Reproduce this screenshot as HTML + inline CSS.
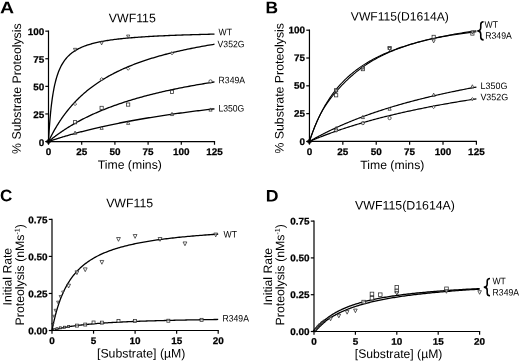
<!DOCTYPE html>
<html><head><meta charset="utf-8"><title>Figure</title>
<style>html,body{margin:0;padding:0;background:#fff;}svg{display:block;}svg text{font-family:"Liberation Sans",sans-serif;}</style></head>
<body>
<svg width="520" height="362" viewBox="0 0 520 362" font-family="Liberation Sans, sans-serif" fill="#000">
<rect width="520" height="362" fill="#fff"/>
<defs><filter id="soft" x="0" y="0" width="100%" height="100%" filterUnits="userSpaceOnUse" color-interpolation-filters="sRGB"><feGaussianBlur stdDeviation="0.3"/></filter></defs>
<g filter="url(#soft)">
<polyline points="48.50,141.55 48.52,141.22 48.56,140.40 48.63,139.19 48.72,137.65 48.82,135.82 48.95,133.75 49.09,131.49 49.26,129.06 49.43,126.51 49.63,123.87 49.84,121.16 50.07,118.43 50.31,115.68 50.57,112.93 50.84,110.21 51.13,107.53 51.43,104.90 51.75,102.33 52.08,99.83 52.43,97.39 52.79,95.03 53.17,92.75 53.56,90.55 53.96,88.43 54.37,86.38 54.80,84.42 55.25,82.53 55.70,80.72 56.17,78.99 56.66,77.32 57.15,75.73 57.66,74.20 58.18,72.74 58.72,71.33 59.27,69.99 59.82,68.71 60.40,67.47 60.98,66.30 61.58,65.17 62.19,64.08 62.81,63.05 63.45,62.05 64.09,61.10 64.75,60.19 65.42,59.31 66.11,58.47 66.80,57.66 67.51,56.89 68.23,56.14 68.96,55.43 69.70,54.74 70.45,54.08 71.22,53.44 72.00,52.83 72.79,52.24 73.59,51.68 74.40,51.13 75.22,50.61 76.06,50.10 76.90,49.61 77.76,49.14 78.63,48.69 79.51,48.25 80.40,47.82 81.30,47.42 82.22,47.02 83.14,46.64 84.08,46.27 85.03,45.91 85.99,45.57 86.96,45.23 87.94,44.91 88.93,44.60 89.93,44.30 90.94,44.00 91.97,43.72 93.00,43.44 94.05,43.17 95.10,42.91 96.17,42.66 97.25,42.42 98.34,42.18 99.44,41.95 100.55,41.73 101.67,41.51 102.80,41.30 103.94,41.09 105.09,40.90 106.26,40.70 107.43,40.51 108.61,40.33 109.81,40.15 111.01,39.98 112.23,39.81 113.45,39.64 114.69,39.48 115.93,39.33 117.19,39.17 118.46,39.02 119.73,38.88 121.02,38.74 122.32,38.60 123.63,38.47 124.95,38.34 126.27,38.21 127.61,38.08 128.96,37.96 130.32,37.84 131.69,37.73 133.07,37.61 134.46,37.50 135.85,37.39 137.26,37.29 138.68,37.18 140.11,37.08 141.55,36.98 143.00,36.89 144.46,36.79 145.93,36.70 147.41,36.61 148.89,36.52 150.39,36.43 151.90,36.35 153.42,36.26 154.95,36.18 156.48,36.10 158.03,36.02 159.59,35.95 161.16,35.87 162.73,35.80 164.32,35.73 165.92,35.66 167.52,35.59 169.14,35.52 170.76,35.45 172.40,35.39 174.04,35.32 175.70,35.26 177.36,35.20 179.03,35.14 180.72,35.08 182.41,35.02 184.11,34.96 185.82,34.91 187.54,34.85 189.28,34.80 191.02,34.75 192.77,34.69 194.53,34.64 196.29,34.59 198.07,34.54 199.86,34.49 201.66,34.45 203.46,34.40 205.28,34.35 207.10,34.31 208.94,34.26 210.78,34.22 212.64,34.18 214.50,34.13" fill="none" stroke="#000" stroke-width="1.3" stroke-linejoin="round"/>
<polyline points="48.50,141.55 48.52,141.51 48.56,141.42 48.63,141.28 48.72,141.09 48.82,140.87 48.95,140.61 49.09,140.31 49.26,139.97 49.43,139.61 49.63,139.21 49.84,138.78 50.07,138.32 50.31,137.83 50.57,137.32 50.84,136.78 51.13,136.21 51.43,135.62 51.75,135.01 52.08,134.38 52.43,133.73 52.79,133.05 53.17,132.36 53.56,131.65 53.96,130.93 54.37,130.18 54.80,129.43 55.25,128.66 55.70,127.87 56.17,127.08 56.66,126.27 57.15,125.45 57.66,124.62 58.18,123.79 58.72,122.94 59.27,122.09 59.82,121.23 60.40,120.37 60.98,119.49 61.58,118.62 62.19,117.74 62.81,116.85 63.45,115.97 64.09,115.08 64.75,114.19 65.42,113.29 66.11,112.40 66.80,111.51 67.51,110.61 68.23,109.72 68.96,108.83 69.70,107.94 70.45,107.05 71.22,106.16 72.00,105.27 72.79,104.39 73.59,103.51 74.40,102.64 75.22,101.77 76.06,100.90 76.90,100.03 77.76,99.18 78.63,98.32 79.51,97.47 80.40,96.63 81.30,95.79 82.22,94.95 83.14,94.12 84.08,93.30 85.03,92.49 85.99,91.67 86.96,90.87 87.94,90.07 88.93,89.28 89.93,88.49 90.94,87.72 91.97,86.94 93.00,86.18 94.05,85.42 95.10,84.67 96.17,83.92 97.25,83.18 98.34,82.45 99.44,81.73 100.55,81.01 101.67,80.30 102.80,79.59 103.94,78.90 105.09,78.21 106.26,77.53 107.43,76.85 108.61,76.18 109.81,75.52 111.01,74.86 112.23,74.22 113.45,73.57 114.69,72.94 115.93,72.31 117.19,71.69 118.46,71.08 119.73,70.47 121.02,69.87 122.32,69.27 123.63,68.69 124.95,68.10 126.27,67.53 127.61,66.96 128.96,66.40 130.32,65.84 131.69,65.29 133.07,64.75 134.46,64.21 135.85,63.68 137.26,63.16 138.68,62.64 140.11,62.13 141.55,61.62 143.00,61.12 144.46,60.62 145.93,60.13 147.41,59.65 148.89,59.17 150.39,58.70 151.90,58.23 153.42,57.77 154.95,57.31 156.48,56.86 158.03,56.41 159.59,55.97 161.16,55.53 162.73,55.10 164.32,54.68 165.92,54.25 167.52,53.84 169.14,53.43 170.76,53.02 172.40,52.62 174.04,52.22 175.70,51.83 177.36,51.44 179.03,51.05 180.72,50.67 182.41,50.30 184.11,49.93 185.82,49.56 187.54,49.20 189.28,48.84 191.02,48.49 192.77,48.14 194.53,47.79 196.29,47.45 198.07,47.11 199.86,46.78 201.66,46.44 203.46,46.12 205.28,45.79 207.10,45.47 208.94,45.16 210.78,44.85 212.64,44.54 214.50,44.23" fill="none" stroke="#000" stroke-width="1.3" stroke-linejoin="round"/>
<polyline points="48.50,141.55 48.52,141.54 48.56,141.50 48.63,141.44 48.72,141.37 48.82,141.28 48.95,141.18 49.09,141.06 49.26,140.93 49.43,140.78 49.63,140.62 49.84,140.45 50.07,140.26 50.31,140.07 50.57,139.86 50.84,139.64 51.13,139.41 51.43,139.17 51.75,138.91 52.08,138.65 52.43,138.38 52.79,138.10 53.17,137.81 53.56,137.51 53.96,137.20 54.37,136.88 54.80,136.56 55.25,136.23 55.70,135.88 56.17,135.54 56.66,135.18 57.15,134.82 57.66,134.45 58.18,134.07 58.72,133.69 59.27,133.30 59.82,132.91 60.40,132.51 60.98,132.11 61.58,131.70 62.19,131.28 62.81,130.86 63.45,130.44 64.09,130.01 64.75,129.58 65.42,129.15 66.11,128.71 66.80,128.26 67.51,127.82 68.23,127.37 68.96,126.92 69.70,126.46 70.45,126.00 71.22,125.55 72.00,125.08 72.79,124.62 73.59,124.15 74.40,123.69 75.22,123.22 76.06,122.75 76.90,122.28 77.76,121.80 78.63,121.33 79.51,120.86 80.40,120.38 81.30,119.91 82.22,119.43 83.14,118.95 84.08,118.48 85.03,118.00 85.99,117.53 86.96,117.05 87.94,116.57 88.93,116.10 89.93,115.62 90.94,115.15 91.97,114.67 93.00,114.20 94.05,113.73 95.10,113.26 96.17,112.79 97.25,112.32 98.34,111.85 99.44,111.38 100.55,110.92 101.67,110.45 102.80,109.99 103.94,109.53 105.09,109.07 106.26,108.61 107.43,108.16 108.61,107.70 109.81,107.25 111.01,106.80 112.23,106.35 113.45,105.90 114.69,105.46 115.93,105.02 117.19,104.58 118.46,104.14 119.73,103.70 121.02,103.27 122.32,102.84 123.63,102.41 124.95,101.98 126.27,101.55 127.61,101.13 128.96,100.71 130.32,100.29 131.69,99.87 133.07,99.46 134.46,99.05 135.85,98.64 137.26,98.23 138.68,97.83 140.11,97.43 141.55,97.03 143.00,96.63 144.46,96.24 145.93,95.85 147.41,95.46 148.89,95.07 150.39,94.69 151.90,94.31 153.42,93.93 154.95,93.55 156.48,93.18 158.03,92.81 159.59,92.44 161.16,92.08 162.73,91.71 164.32,91.35 165.92,90.99 167.52,90.64 169.14,90.28 170.76,89.93 172.40,89.58 174.04,89.24 175.70,88.90 177.36,88.55 179.03,88.22 180.72,87.88 182.41,87.55 184.11,87.22 185.82,86.89 187.54,86.56 189.28,86.24 191.02,85.92 192.77,85.60 194.53,85.28 196.29,84.97 198.07,84.66 199.86,84.35 201.66,84.04 203.46,83.74 205.28,83.43 207.10,83.14 208.94,82.84 210.78,82.54 212.64,82.25 214.50,81.96" fill="none" stroke="#000" stroke-width="1.3" stroke-linejoin="round"/>
<polyline points="48.50,141.55 48.52,141.54 48.56,141.53 48.63,141.51 48.72,141.48 48.82,141.44 48.95,141.40 49.09,141.35 49.26,141.29 49.43,141.23 49.63,141.17 49.84,141.09 50.07,141.02 50.31,140.94 50.57,140.85 50.84,140.76 51.13,140.66 51.43,140.56 51.75,140.45 52.08,140.34 52.43,140.23 52.79,140.11 53.17,139.98 53.56,139.86 53.96,139.73 54.37,139.59 54.80,139.45 55.25,139.31 55.70,139.16 56.17,139.01 56.66,138.86 57.15,138.70 57.66,138.54 58.18,138.37 58.72,138.20 59.27,138.03 59.82,137.86 60.40,137.68 60.98,137.50 61.58,137.32 62.19,137.13 62.81,136.94 63.45,136.75 64.09,136.56 64.75,136.36 65.42,136.16 66.11,135.96 66.80,135.76 67.51,135.55 68.23,135.34 68.96,135.13 69.70,134.92 70.45,134.70 71.22,134.48 72.00,134.27 72.79,134.04 73.59,133.82 74.40,133.60 75.22,133.37 76.06,133.14 76.90,132.91 77.76,132.68 78.63,132.45 79.51,132.22 80.40,131.98 81.30,131.75 82.22,131.51 83.14,131.27 84.08,131.03 85.03,130.79 85.99,130.55 86.96,130.30 87.94,130.06 88.93,129.81 89.93,129.57 90.94,129.32 91.97,129.07 93.00,128.82 94.05,128.58 95.10,128.33 96.17,128.08 97.25,127.83 98.34,127.58 99.44,127.32 100.55,127.07 101.67,126.82 102.80,126.57 103.94,126.31 105.09,126.06 106.26,125.81 107.43,125.55 108.61,125.30 109.81,125.05 111.01,124.79 112.23,124.54 113.45,124.28 114.69,124.03 115.93,123.78 117.19,123.52 118.46,123.27 119.73,123.01 121.02,122.76 122.32,122.51 123.63,122.25 124.95,122.00 126.27,121.75 127.61,121.50 128.96,121.24 130.32,120.99 131.69,120.74 133.07,120.49 134.46,120.24 135.85,119.99 137.26,119.74 138.68,119.49 140.11,119.24 141.55,118.99 143.00,118.75 144.46,118.50 145.93,118.25 147.41,118.01 148.89,117.76 150.39,117.52 151.90,117.27 153.42,117.03 154.95,116.79 156.48,116.55 158.03,116.30 159.59,116.06 161.16,115.82 162.73,115.59 164.32,115.35 165.92,115.11 167.52,114.87 169.14,114.64 170.76,114.40 172.40,114.17 174.04,113.93 175.70,113.70 177.36,113.47 179.03,113.24 180.72,113.01 182.41,112.78 184.11,112.55 185.82,112.32 187.54,112.09 189.28,111.87 191.02,111.64 192.77,111.42 194.53,111.20 196.29,110.97 198.07,110.75 199.86,110.53 201.66,110.31 203.46,110.10 205.28,109.88 207.10,109.66 208.94,109.45 210.78,109.23 212.64,109.02 214.50,108.80" fill="none" stroke="#000" stroke-width="1.3" stroke-linejoin="round"/>
<path d="M73.46,48.32L76.66,48.32L75.06,51.52Z" fill="#fff" fill-opacity="0.55" stroke="#2a2a2a" stroke-width="0.75"/>
<path d="M100.02,41.69L103.22,41.69L101.62,44.89Z" fill="#fff" fill-opacity="0.55" stroke="#2a2a2a" stroke-width="0.75"/>
<path d="M126.58,35.07L129.78,35.07L128.18,38.27Z" fill="#fff" fill-opacity="0.55" stroke="#2a2a2a" stroke-width="0.75"/>
<path d="M73.46,104.01L75.06,102.41L76.66,104.01L75.06,105.61Z" fill="#fff" fill-opacity="0.55" stroke="#2a2a2a" stroke-width="0.75"/>
<path d="M100.02,79.17L101.62,77.57L103.22,79.17L101.62,80.77Z" fill="#fff" fill-opacity="0.55" stroke="#2a2a2a" stroke-width="0.75"/>
<path d="M126.58,68.69L128.18,67.09L129.78,68.69L128.18,70.29Z" fill="#fff" fill-opacity="0.55" stroke="#2a2a2a" stroke-width="0.75"/>
<path d="M170.40,53.23L172.00,51.63L173.60,53.23L172.00,54.83Z" fill="#fff" fill-opacity="0.55" stroke="#2a2a2a" stroke-width="0.75"/>
<rect x="73.46" y="120.63" width="3.20" height="3.20" fill="#fff" fill-opacity="0.55" stroke="#2a2a2a" stroke-width="0.75"/>
<rect x="100.02" y="106.28" width="3.20" height="3.20" fill="#fff" fill-opacity="0.55" stroke="#2a2a2a" stroke-width="0.75"/>
<rect x="126.58" y="102.97" width="3.20" height="3.20" fill="#fff" fill-opacity="0.55" stroke="#2a2a2a" stroke-width="0.75"/>
<rect x="170.40" y="90.27" width="3.20" height="3.20" fill="#fff" fill-opacity="0.55" stroke="#2a2a2a" stroke-width="0.75"/>
<circle cx="210.52" cy="81.38" r="1.60" fill="#fff" fill-opacity="0.55" stroke="#2a2a2a" stroke-width="0.75"/>
<path d="M73.46,134.32L76.66,134.32L75.06,131.12Z" fill="#fff" fill-opacity="0.55" stroke="#2a2a2a" stroke-width="0.75"/>
<path d="M100.02,129.35L103.22,129.35L101.62,126.15Z" fill="#fff" fill-opacity="0.55" stroke="#2a2a2a" stroke-width="0.75"/>
<path d="M126.58,124.38L129.78,124.38L128.18,121.18Z" fill="#fff" fill-opacity="0.55" stroke="#2a2a2a" stroke-width="0.75"/>
<path d="M170.40,115.55L173.60,115.55L172.00,112.35Z" fill="#fff" fill-opacity="0.55" stroke="#2a2a2a" stroke-width="0.75"/>
<path d="M208.92,111.13L212.12,111.13L210.52,107.93Z" fill="#fff" fill-opacity="0.55" stroke="#2a2a2a" stroke-width="0.75"/>
<path d="M46.00,141.55L48.50,139.05L51.00,141.55L48.50,144.05Z" fill="#111" stroke="#111" stroke-width="0.8" stroke-linejoin="round"/>
<path d="M48.50,30.55L48.50,141.55L215.10,141.55" fill="none" stroke="#000" stroke-width="1.2"/>
<path d="M48.50,141.55v3.2" stroke="#000" stroke-width="1.2"/>
<text transform="translate(48.50,155.05) rotate(0.04) scale(1.035,1)" font-size="9.6" text-anchor="middle" font-weight="bold" stroke="#000" stroke-width="0.25">0</text>
<path d="M81.70,141.55v3.2" stroke="#000" stroke-width="1.2"/>
<text transform="translate(81.70,155.05) rotate(0.04) scale(1.035,1)" font-size="9.6" text-anchor="middle" font-weight="bold" stroke="#000" stroke-width="0.25">25</text>
<path d="M114.90,141.55v3.2" stroke="#000" stroke-width="1.2"/>
<text transform="translate(114.90,155.05) rotate(0.04) scale(1.035,1)" font-size="9.6" text-anchor="middle" font-weight="bold" stroke="#000" stroke-width="0.25">50</text>
<path d="M148.10,141.55v3.2" stroke="#000" stroke-width="1.2"/>
<text transform="translate(148.10,155.05) rotate(0.04) scale(1.035,1)" font-size="9.6" text-anchor="middle" font-weight="bold" stroke="#000" stroke-width="0.25">75</text>
<path d="M181.30,141.55v3.2" stroke="#000" stroke-width="1.2"/>
<text transform="translate(181.30,155.05) rotate(0.04) scale(1.035,1)" font-size="9.6" text-anchor="middle" font-weight="bold" stroke="#000" stroke-width="0.25">100</text>
<path d="M214.50,141.55v3.2" stroke="#000" stroke-width="1.2"/>
<text transform="translate(214.50,155.05) rotate(0.04) scale(1.035,1)" font-size="9.6" text-anchor="middle" font-weight="bold" stroke="#000" stroke-width="0.25">125</text>
<path d="M48.50,141.55h-3.2" stroke="#000" stroke-width="1.2"/>
<text transform="translate(44.40,146.10) rotate(0.04) scale(1.035,1)" font-size="9.6" text-anchor="end" font-weight="bold" stroke="#000" stroke-width="0.25">0</text>
<path d="M48.50,113.95h-3.2" stroke="#000" stroke-width="1.2"/>
<text transform="translate(44.40,117.90) rotate(0.04) scale(1.035,1)" font-size="9.6" text-anchor="end" font-weight="bold" stroke="#000" stroke-width="0.25">25</text>
<path d="M48.50,86.35h-3.2" stroke="#000" stroke-width="1.2"/>
<text transform="translate(44.40,90.30) rotate(0.04) scale(1.035,1)" font-size="9.6" text-anchor="end" font-weight="bold" stroke="#000" stroke-width="0.25">50</text>
<path d="M48.50,58.75h-3.2" stroke="#000" stroke-width="1.2"/>
<text transform="translate(44.40,62.70) rotate(0.04) scale(1.035,1)" font-size="9.6" text-anchor="end" font-weight="bold" stroke="#000" stroke-width="0.25">75</text>
<path d="M48.50,31.15h-3.2" stroke="#000" stroke-width="1.2"/>
<text transform="translate(44.40,35.10) rotate(0.04) scale(1.035,1)" font-size="9.6" text-anchor="end" font-weight="bold" stroke="#000" stroke-width="0.25">100</text>
<text transform="translate(0.00,13.20) rotate(0.04) scale(1.17,1)" font-size="16.7" text-anchor="start" font-weight="bold">A</text>
<text transform="translate(132.30,22.20) rotate(0.04)" font-size="12.3" text-anchor="middle">VWF115</text>
<text transform="translate(129.80,168.80) rotate(0.04) scale(1.02,1)" font-size="12.0" text-anchor="middle">Time (mins)</text>
<text transform="translate(20.90,88.65) rotate(-89.96)" font-size="12.3" text-anchor="middle">% Substrate Proteolysis</text>
<text transform="translate(218.60,35.20) rotate(0.04) scale(0.93,1)" font-size="9.3" text-anchor="start">WT</text>
<text transform="translate(217.60,47.30) rotate(0.04) scale(0.93,1)" font-size="9.3" text-anchor="start">V352G</text>
<text transform="translate(218.60,83.20) rotate(0.04) scale(0.93,1)" font-size="9.3" text-anchor="start">R349A</text>
<text transform="translate(218.40,111.40) rotate(0.04) scale(0.93,1)" font-size="9.3" text-anchor="start">L350G</text>
<polyline points="309.45,141.45 309.47,141.39 309.51,141.26 309.58,141.05 309.67,140.78 309.78,140.45 309.90,140.07 310.05,139.63 310.21,139.14 310.39,138.61 310.59,138.03 310.80,137.41 311.03,136.74 311.27,136.04 311.53,135.30 311.81,134.53 312.10,133.73 312.40,132.89 312.72,132.02 313.06,131.13 313.40,130.21 313.77,129.27 314.14,128.30 314.53,127.32 314.94,126.32 315.36,125.29 315.79,124.26 316.24,123.20 316.70,122.14 317.17,121.06 317.65,119.97 318.15,118.88 318.66,117.77 319.19,116.66 319.73,115.54 320.28,114.42 320.84,113.30 321.42,112.17 322.00,111.04 322.60,109.91 323.22,108.78 323.84,107.65 324.48,106.52 325.13,105.40 325.80,104.27 326.47,103.16 327.16,102.04 327.86,100.93 328.57,99.83 329.29,98.73 330.02,97.64 330.77,96.56 331.53,95.48 332.30,94.41 333.08,93.35 333.87,92.30 334.68,91.26 335.50,90.22 336.32,89.20 337.16,88.18 338.02,87.17 338.88,86.18 339.75,85.19 340.64,84.21 341.53,83.25 342.44,82.29 343.36,81.34 344.29,80.41 345.23,79.48 346.19,78.57 347.15,77.67 348.13,76.77 349.11,75.89 350.11,75.02 351.12,74.16 352.14,73.31 353.17,72.47 354.21,71.64 355.26,70.82 356.32,70.01 357.39,69.21 358.48,68.42 359.57,67.64 360.68,66.88 361.79,66.12 362.92,65.37 364.06,64.64 365.21,63.91 366.37,63.19 367.54,62.48 368.72,61.78 369.91,61.10 371.11,60.42 372.32,59.75 373.54,59.09 374.77,58.43 376.02,57.79 377.27,57.16 378.53,56.53 379.81,55.92 381.09,55.31 382.39,54.71 383.69,54.12 385.01,53.53 386.33,52.96 387.67,52.39 389.01,51.83 390.37,51.28 391.74,50.74 393.11,50.20 394.50,49.67 395.90,49.15 397.30,48.64 398.72,48.13 400.15,47.63 401.59,47.14 403.03,46.65 404.49,46.18 405.96,45.70 407.43,45.24 408.92,44.78 410.42,44.32 411.93,43.88 413.44,43.44 414.97,43.00 416.51,42.57 418.05,42.15 419.61,41.73 421.17,41.32 422.75,40.92 424.34,40.52 425.93,40.12 427.54,39.73 429.15,39.35 430.78,38.97 432.41,38.59 434.06,38.22 435.71,37.86 437.37,37.50 439.05,37.15 440.73,36.80 442.42,36.45 444.13,36.11 445.84,35.78 447.56,35.44 449.29,35.12 451.03,34.79 452.78,34.48 454.54,34.16 456.31,33.85 458.09,33.54 459.88,33.24 461.68,32.94 463.48,32.65 465.30,32.36 467.13,32.07 468.96,31.79 470.81,31.51 472.66,31.23 474.53,30.96 476.40,30.69" fill="none" stroke="#000" stroke-width="1.1" stroke-linejoin="round"/>
<polyline points="309.45,141.45 309.47,141.39 309.51,141.26 309.58,141.05 309.67,140.78 309.78,140.45 309.90,140.07 310.05,139.63 310.21,139.14 310.39,138.61 310.59,138.03 310.80,137.41 311.03,136.74 311.27,136.04 311.53,135.30 311.81,134.53 312.10,133.73 312.40,132.89 312.72,132.02 313.06,131.13 313.40,130.21 313.77,129.27 314.14,128.31 314.53,127.32 314.94,126.32 315.36,125.30 315.79,124.26 316.24,123.22 316.70,122.16 317.17,121.09 317.65,120.02 318.15,118.94 318.66,117.85 319.19,116.77 319.73,115.69 320.28,114.60 320.84,113.53 321.42,112.45 322.00,111.39 322.60,110.32 323.22,109.27 323.84,108.23 324.48,107.19 325.13,106.16 325.80,105.14 326.47,104.13 327.16,103.12 327.86,102.12 328.57,101.13 329.29,100.14 330.02,99.16 330.77,98.18 331.53,97.21 332.30,96.24 333.08,95.27 333.87,94.31 334.68,93.34 335.50,92.38 336.32,91.42 337.16,90.46 338.02,89.50 338.88,88.55 339.75,87.59 340.64,86.64 341.53,85.69 342.44,84.74 343.36,83.79 344.29,82.85 345.23,81.91 346.19,80.97 347.15,80.04 348.13,79.11 349.11,78.19 350.11,77.28 351.12,76.37 352.14,75.47 353.17,74.58 354.21,73.69 355.26,72.81 356.32,71.94 357.39,71.08 358.48,70.23 359.57,69.39 360.68,68.56 361.79,67.74 362.92,66.93 364.06,66.13 365.21,65.34 366.37,64.56 367.54,63.79 368.72,63.03 369.91,62.29 371.11,61.55 372.32,60.83 373.54,60.11 374.77,59.41 376.02,58.72 377.27,58.04 378.53,57.36 379.81,56.70 381.09,56.05 382.39,55.41 383.69,54.78 385.01,54.16 386.33,53.55 387.67,52.95 389.01,52.36 390.37,51.78 391.74,51.20 393.11,50.64 394.50,50.09 395.90,49.54 397.30,49.00 398.72,48.47 400.15,47.95 401.59,47.44 403.03,46.93 404.49,46.44 405.96,45.95 407.43,45.47 408.92,44.99 410.42,44.53 411.93,44.07 413.44,43.61 414.97,43.17 416.51,42.73 418.05,42.29 419.61,41.87 421.17,41.45 422.75,41.03 424.34,40.62 425.93,40.22 427.54,39.83 429.15,39.43 430.78,39.07 432.41,38.73 434.06,38.39 435.71,38.06 437.37,37.73 439.05,37.41 440.73,37.09 442.42,36.78 444.13,36.47 445.84,36.17 447.56,35.87 449.29,35.58 451.03,35.29 452.78,35.00 454.54,34.72 456.31,34.45 458.09,34.18 459.88,33.91 461.68,33.65 463.48,33.39 465.30,33.14 467.13,32.89 468.96,32.65 470.81,32.40 472.66,32.17 474.53,31.93 476.40,31.70" fill="none" stroke="#000" stroke-width="1.1" stroke-linejoin="round"/>
<polyline points="309.45,141.45 309.47,141.44 309.51,141.41 309.58,141.37 309.67,141.32 309.78,141.26 309.90,141.19 310.05,141.10 310.21,141.01 310.39,140.91 310.59,140.79 310.80,140.67 311.03,140.54 311.27,140.40 311.53,140.25 311.81,140.10 312.10,139.93 312.40,139.76 312.72,139.58 313.06,139.39 313.40,139.20 313.77,138.99 314.14,138.78 314.53,138.57 314.94,138.34 315.36,138.11 315.79,137.88 316.24,137.63 316.70,137.38 317.17,137.13 317.65,136.86 318.15,136.60 318.66,136.32 319.19,136.04 319.73,135.76 320.28,135.47 320.84,135.17 321.42,134.87 322.00,134.57 322.60,134.26 323.22,133.94 323.84,133.62 324.48,133.30 325.13,132.97 325.80,132.64 326.47,132.30 327.16,131.96 327.86,131.61 328.57,131.26 329.29,130.91 330.02,130.56 330.77,130.20 331.53,129.83 332.30,129.47 333.08,129.10 333.87,128.73 334.68,128.35 335.50,127.97 336.32,127.59 337.16,127.21 338.02,126.82 338.88,126.44 339.75,126.04 340.64,125.65 341.53,125.26 342.44,124.86 343.36,124.46 344.29,124.06 345.23,123.66 346.19,123.25 347.15,122.85 348.13,122.44 349.11,122.03 350.11,121.62 351.12,121.21 352.14,120.80 353.17,120.38 354.21,119.97 355.26,119.55 356.32,119.14 357.39,118.72 358.48,118.30 359.57,117.88 360.68,117.46 361.79,117.04 362.92,116.62 364.06,116.20 365.21,115.78 366.37,115.36 367.54,114.94 368.72,114.52 369.91,114.10 371.11,113.67 372.32,113.25 373.54,112.83 374.77,112.41 376.02,111.99 377.27,111.57 378.53,111.15 379.81,110.73 381.09,110.31 382.39,109.89 383.69,109.47 385.01,109.05 386.33,108.63 387.67,108.21 389.01,107.80 390.37,107.38 391.74,106.96 393.11,106.55 394.50,106.14 395.90,105.72 397.30,105.31 398.72,104.90 400.15,104.49 401.59,104.08 403.03,103.67 404.49,103.26 405.96,102.86 407.43,102.45 408.92,102.05 410.42,101.65 411.93,101.25 413.44,100.85 414.97,100.45 416.51,100.05 418.05,99.65 419.61,99.26 421.17,98.86 422.75,98.47 424.34,98.08 425.93,97.69 427.54,97.30 429.15,96.91 430.78,96.53 432.41,96.14 434.06,95.76 435.71,95.38 437.37,95.00 439.05,94.62 440.73,94.25 442.42,93.87 444.13,93.50 445.84,93.12 447.56,92.75 449.29,92.38 451.03,92.02 452.78,91.65 454.54,91.29 456.31,90.92 458.09,90.56 459.88,90.20 461.68,89.85 463.48,89.49 465.30,89.14 467.13,88.78 468.96,88.43 470.81,88.08 472.66,87.74 474.53,87.39 476.40,87.04" fill="none" stroke="#000" stroke-width="1.2" stroke-linejoin="round"/>
<polyline points="309.45,141.45 309.47,141.44 309.51,141.42 309.58,141.39 309.67,141.36 309.78,141.31 309.90,141.26 310.05,141.20 310.21,141.13 310.39,141.05 310.59,140.97 310.80,140.88 311.03,140.78 311.27,140.68 311.53,140.57 311.81,140.45 312.10,140.33 312.40,140.20 312.72,140.07 313.06,139.93 313.40,139.79 313.77,139.64 314.14,139.48 314.53,139.32 314.94,139.15 315.36,138.98 315.79,138.81 316.24,138.62 316.70,138.44 317.17,138.25 317.65,138.05 318.15,137.85 318.66,137.65 319.19,137.44 319.73,137.23 320.28,137.01 320.84,136.79 321.42,136.57 322.00,136.34 322.60,136.11 323.22,135.87 323.84,135.63 324.48,135.39 325.13,135.14 325.80,134.89 326.47,134.64 327.16,134.38 327.86,134.12 328.57,133.86 329.29,133.59 330.02,133.33 330.77,133.05 331.53,132.78 332.30,132.50 333.08,132.22 333.87,131.94 334.68,131.66 335.50,131.37 336.32,131.08 337.16,130.79 338.02,130.50 338.88,130.20 339.75,129.90 340.64,129.61 341.53,129.30 342.44,129.00 343.36,128.70 344.29,128.39 345.23,128.08 346.19,127.77 347.15,127.46 348.13,127.15 349.11,126.83 350.11,126.52 351.12,126.20 352.14,125.88 353.17,125.56 354.21,125.24 355.26,124.92 356.32,124.60 357.39,124.28 358.48,123.95 359.57,123.63 360.68,123.30 361.79,122.97 362.92,122.65 364.06,122.32 365.21,121.99 366.37,121.66 367.54,121.33 368.72,121.00 369.91,120.67 371.11,120.34 372.32,120.01 373.54,119.68 374.77,119.35 376.02,119.02 377.27,118.69 378.53,118.36 379.81,118.03 381.09,117.69 382.39,117.36 383.69,117.03 385.01,116.70 386.33,116.37 387.67,116.04 389.01,115.71 390.37,115.38 391.74,115.05 393.11,114.72 394.50,114.39 395.90,114.06 397.30,113.73 398.72,113.40 400.15,113.07 401.59,112.74 403.03,112.42 404.49,112.09 405.96,111.76 407.43,111.44 408.92,111.11 410.42,110.79 411.93,110.47 413.44,110.14 414.97,109.82 416.51,109.50 418.05,109.18 419.61,108.86 421.17,108.54 422.75,108.22 424.34,107.91 425.93,107.59 427.54,107.27 429.15,106.96 430.78,106.64 432.41,106.33 434.06,106.02 435.71,105.71 437.37,105.40 439.05,105.09 440.73,104.78 442.42,104.47 444.13,104.17 445.84,103.86 447.56,103.56 449.29,103.25 451.03,102.95 452.78,102.65 454.54,102.35 456.31,102.05 458.09,101.75 459.88,101.46 461.68,101.16 463.48,100.87 465.30,100.57 467.13,100.28 468.96,99.99 470.81,99.70 472.66,99.41 474.53,99.12 476.40,98.83" fill="none" stroke="#000" stroke-width="1.2" stroke-linejoin="round"/>
<rect x="334.56" y="88.68" width="3.20" height="3.20" fill="#fff" fill-opacity="0.55" stroke="#2a2a2a" stroke-width="0.75"/>
<rect x="334.56" y="93.68" width="3.20" height="3.20" fill="#fff" fill-opacity="0.55" stroke="#2a2a2a" stroke-width="0.75"/>
<rect x="361.27" y="67.54" width="3.20" height="3.20" fill="#fff" fill-opacity="0.55" stroke="#2a2a2a" stroke-width="0.75"/>
<rect x="387.99" y="46.40" width="3.20" height="3.20" fill="#fff" fill-opacity="0.55" stroke="#2a2a2a" stroke-width="0.75"/>
<rect x="432.06" y="35.27" width="3.20" height="3.20" fill="#fff" fill-opacity="0.55" stroke="#2a2a2a" stroke-width="0.75"/>
<rect x="470.79" y="31.94" width="3.20" height="3.20" fill="#fff" fill-opacity="0.55" stroke="#2a2a2a" stroke-width="0.75"/>
<path d="M334.56,89.79L337.76,89.79L336.16,92.99Z" fill="#fff" fill-opacity="0.55" stroke="#2a2a2a" stroke-width="0.75"/>
<path d="M361.27,66.42L364.47,66.42L362.87,69.62Z" fill="#fff" fill-opacity="0.55" stroke="#2a2a2a" stroke-width="0.75"/>
<path d="M387.99,47.51L391.19,47.51L389.59,50.71Z" fill="#fff" fill-opacity="0.55" stroke="#2a2a2a" stroke-width="0.75"/>
<path d="M432.06,39.73L435.26,39.73L433.66,42.93Z" fill="#fff" fill-opacity="0.55" stroke="#2a2a2a" stroke-width="0.75"/>
<path d="M470.79,30.83L473.99,30.83L472.39,34.03Z" fill="#fff" fill-opacity="0.55" stroke="#2a2a2a" stroke-width="0.75"/>
<path d="M334.56,129.70L337.76,129.70L336.16,126.50Z" fill="#fff" fill-opacity="0.55" stroke="#2a2a2a" stroke-width="0.75"/>
<path d="M361.27,118.57L364.47,118.57L362.87,115.38Z" fill="#fff" fill-opacity="0.55" stroke="#2a2a2a" stroke-width="0.75"/>
<path d="M387.99,110.23L391.19,110.23L389.59,107.03Z" fill="#fff" fill-opacity="0.55" stroke="#2a2a2a" stroke-width="0.75"/>
<path d="M432.06,96.32L435.26,96.32L433.66,93.12Z" fill="#fff" fill-opacity="0.55" stroke="#2a2a2a" stroke-width="0.75"/>
<path d="M470.79,87.98L473.99,87.98L472.39,84.78Z" fill="#fff" fill-opacity="0.55" stroke="#2a2a2a" stroke-width="0.75"/>
<circle cx="336.16" cy="130.32" r="1.60" fill="#fff" fill-opacity="0.55" stroke="#2a2a2a" stroke-width="0.75"/>
<circle cx="362.87" cy="123.09" r="1.60" fill="#fff" fill-opacity="0.55" stroke="#2a2a2a" stroke-width="0.75"/>
<circle cx="389.59" cy="118.09" r="1.60" fill="#fff" fill-opacity="0.55" stroke="#2a2a2a" stroke-width="0.75"/>
<path d="M432.06,106.96L433.66,105.36L435.26,106.96L433.66,108.56Z" fill="#fff" fill-opacity="0.55" stroke="#2a2a2a" stroke-width="0.75"/>
<path d="M470.79,99.17L472.39,97.58L473.99,99.17L472.39,100.77Z" fill="#fff" fill-opacity="0.55" stroke="#2a2a2a" stroke-width="0.75"/>
<path d="M306.95,141.45L309.45,138.95L311.95,141.45L309.45,143.95Z" fill="#111" stroke="#111" stroke-width="0.8" stroke-linejoin="round"/>
<path d="M309.45,29.60L309.45,141.45L477.00,141.45" fill="none" stroke="#000" stroke-width="1.2"/>
<path d="M309.45,141.45v3.2" stroke="#000" stroke-width="1.2"/>
<text transform="translate(309.45,154.95) rotate(0.04) scale(1.035,1)" font-size="9.6" text-anchor="middle" font-weight="bold" stroke="#000" stroke-width="0.25">0</text>
<path d="M342.84,141.45v3.2" stroke="#000" stroke-width="1.2"/>
<text transform="translate(342.84,154.95) rotate(0.04) scale(1.035,1)" font-size="9.6" text-anchor="middle" font-weight="bold" stroke="#000" stroke-width="0.25">25</text>
<path d="M376.23,141.45v3.2" stroke="#000" stroke-width="1.2"/>
<text transform="translate(376.23,154.95) rotate(0.04) scale(1.035,1)" font-size="9.6" text-anchor="middle" font-weight="bold" stroke="#000" stroke-width="0.25">50</text>
<path d="M409.62,141.45v3.2" stroke="#000" stroke-width="1.2"/>
<text transform="translate(409.62,154.95) rotate(0.04) scale(1.035,1)" font-size="9.6" text-anchor="middle" font-weight="bold" stroke="#000" stroke-width="0.25">75</text>
<path d="M443.01,141.45v3.2" stroke="#000" stroke-width="1.2"/>
<text transform="translate(443.01,154.95) rotate(0.04) scale(1.035,1)" font-size="9.6" text-anchor="middle" font-weight="bold" stroke="#000" stroke-width="0.25">100</text>
<path d="M476.40,141.45v3.2" stroke="#000" stroke-width="1.2"/>
<text transform="translate(476.40,154.95) rotate(0.04) scale(1.035,1)" font-size="9.6" text-anchor="middle" font-weight="bold" stroke="#000" stroke-width="0.25">125</text>
<path d="M309.45,141.45h-3.2" stroke="#000" stroke-width="1.2"/>
<text transform="translate(305.05,144.90) rotate(0.04) scale(1.035,1)" font-size="9.6" text-anchor="end" font-weight="bold" stroke="#000" stroke-width="0.25">0</text>
<path d="M309.45,113.64h-3.2" stroke="#000" stroke-width="1.2"/>
<text transform="translate(305.05,116.64) rotate(0.04) scale(1.035,1)" font-size="9.6" text-anchor="end" font-weight="bold" stroke="#000" stroke-width="0.25">25</text>
<path d="M309.45,85.82h-3.2" stroke="#000" stroke-width="1.2"/>
<text transform="translate(305.05,88.82) rotate(0.04) scale(1.035,1)" font-size="9.6" text-anchor="end" font-weight="bold" stroke="#000" stroke-width="0.25">50</text>
<path d="M309.45,58.01h-3.2" stroke="#000" stroke-width="1.2"/>
<text transform="translate(305.05,61.01) rotate(0.04) scale(1.035,1)" font-size="9.6" text-anchor="end" font-weight="bold" stroke="#000" stroke-width="0.25">75</text>
<path d="M309.45,30.20h-3.2" stroke="#000" stroke-width="1.2"/>
<text transform="translate(305.05,33.20) rotate(0.04) scale(1.035,1)" font-size="9.6" text-anchor="end" font-weight="bold" stroke="#000" stroke-width="0.25">100</text>
<text transform="translate(265.60,13.20) rotate(0.04) scale(1.04,1)" font-size="16.7" text-anchor="start" font-weight="bold">B</text>
<text transform="translate(399.80,20.60) rotate(0.04)" font-size="12.1" text-anchor="middle">VWF115(D1614A)</text>
<text transform="translate(392.30,169.10) rotate(0.04) scale(1.02,1)" font-size="12.0" text-anchor="middle">Time (mins)</text>
<text transform="translate(283.50,88.30) rotate(-89.96)" font-size="12.3" text-anchor="middle">% Substrate Proteolysis</text>
<text transform="translate(484.60,27.70) rotate(0.04) scale(0.93,1)" font-size="9.3" text-anchor="start">WT</text>
<text transform="translate(485.20,38.70) rotate(0.04) scale(0.94,1)" font-size="9.3" text-anchor="start">R349A</text>
<text transform="translate(480.60,89.00) rotate(0.04) scale(0.96,1)" font-size="9.3" text-anchor="start">L350G</text>
<text transform="translate(480.40,100.30) rotate(0.04) scale(0.96,1)" font-size="9.3" text-anchor="start">V352G</text>
<path d="M483.60,21.80q-2.85,0 -2.85,2.85V27.40q0,3.45 -3.45,3.45q3.45,0 3.45,3.45V37.05q0,2.85 2.85,2.85" fill="none" stroke="#000" stroke-width="1.6"/>
<polyline points="52.00,330.50 52.02,330.41 52.06,330.18 52.13,329.83 52.22,329.38 52.32,328.83 52.45,328.20 52.59,327.48 52.76,326.69 52.94,325.83 53.13,324.90 53.34,323.92 53.57,322.88 53.81,321.80 54.07,320.67 54.35,319.50 54.63,318.30 54.94,317.07 55.26,315.81 55.59,314.53 55.94,313.23 56.30,311.91 56.67,310.59 57.06,309.26 57.47,307.92 57.88,306.57 58.31,305.23 58.76,303.89 59.21,302.56 59.68,301.23 60.17,299.90 60.66,298.59 61.17,297.29 61.69,296.00 62.23,294.72 62.78,293.46 63.34,292.21 63.91,290.98 64.50,289.77 65.10,288.58 65.71,287.40 66.33,286.24 66.96,285.10 67.61,283.98 68.27,282.87 68.94,281.79 69.63,280.73 70.32,279.68 71.03,278.66 71.75,277.65 72.48,276.67 73.22,275.70 73.98,274.76 74.75,273.83 75.52,272.92 76.31,272.03 77.12,271.15 77.93,270.30 78.75,269.46 79.59,268.64 80.44,267.84 81.30,267.06 82.17,266.29 83.05,265.54 83.94,264.80 84.84,264.08 85.76,263.37 86.69,262.68 87.62,262.01 88.57,261.35 89.53,260.70 90.50,260.07 91.48,259.45 92.48,258.84 93.48,258.25 94.49,257.67 95.52,257.10 96.56,256.55 97.60,256.00 98.66,255.47 99.73,254.95 100.81,254.44 101.90,253.94 103.00,253.45 104.11,252.97 105.23,252.51 106.36,252.05 107.51,251.60 108.66,251.16 109.83,250.73 111.00,250.30 112.19,249.89 113.38,249.49 114.59,249.09 115.80,248.70 117.03,248.32 118.27,247.95 119.52,247.58 120.77,247.22 122.04,246.87 123.32,246.53 124.61,246.19 125.91,245.86 127.22,245.53 128.54,245.22 129.87,244.90 131.21,244.60 132.56,244.30 133.92,244.00 135.29,243.71 136.67,243.43 138.06,243.15 139.46,242.88 140.87,242.61 142.29,242.35 143.72,242.09 145.16,241.84 146.61,241.59 148.07,241.35 149.54,241.11 151.02,240.87 152.51,240.64 154.01,240.41 155.52,240.19 157.04,239.97 158.57,239.76 160.11,239.54 161.66,239.34 163.22,239.13 164.79,238.93 166.37,238.74 167.96,238.54 169.56,238.35 171.16,238.16 172.78,237.98 174.41,237.80 176.05,237.62 177.69,237.45 179.35,237.27 181.02,237.11 182.69,236.94 184.38,236.78 186.07,236.61 187.78,236.46 189.49,236.30 191.21,236.15 192.95,236.00 194.69,235.85 196.44,235.70 198.20,235.56 199.97,235.42 201.75,235.28 203.54,235.14 205.34,235.00 207.15,234.87 208.97,234.74 210.80,234.61 212.63,234.48 214.48,234.36 216.33,234.24 218.20,234.11" fill="none" stroke="#000" stroke-width="1.3" stroke-linejoin="round"/>
<polyline points="52.00,330.50 52.02,330.49 52.06,330.48 52.13,330.46 52.22,330.43 52.32,330.40 52.45,330.36 52.59,330.32 52.76,330.27 52.94,330.22 53.13,330.16 53.34,330.10 53.57,330.03 53.81,329.96 54.07,329.89 54.35,329.81 54.63,329.73 54.94,329.65 55.26,329.56 55.59,329.48 55.94,329.38 56.30,329.29 56.67,329.19 57.06,329.10 57.47,329.00 57.88,328.90 58.31,328.79 58.76,328.69 59.21,328.58 59.68,328.47 60.17,328.37 60.66,328.26 61.17,328.15 61.69,328.04 62.23,327.93 62.78,327.81 63.34,327.70 63.91,327.59 64.50,327.48 65.10,327.37 65.71,327.25 66.33,327.14 66.96,327.03 67.61,326.92 68.27,326.81 68.94,326.69 69.63,326.58 70.32,326.47 71.03,326.36 71.75,326.25 72.48,326.15 73.22,326.04 73.98,325.93 74.75,325.82 75.52,325.72 76.31,325.61 77.12,325.51 77.93,325.41 78.75,325.30 79.59,325.20 80.44,325.10 81.30,325.00 82.17,324.90 83.05,324.81 83.94,324.71 84.84,324.62 85.76,324.52 86.69,324.43 87.62,324.34 88.57,324.24 89.53,324.15 90.50,324.07 91.48,323.98 92.48,323.89 93.48,323.80 94.49,323.72 95.52,323.64 96.56,323.55 97.60,323.47 98.66,323.39 99.73,323.31 100.81,323.23 101.90,323.16 103.00,323.08 104.11,323.00 105.23,322.93 106.36,322.85 107.51,322.78 108.66,322.71 109.83,322.64 111.00,322.57 112.19,322.50 113.38,322.43 114.59,322.37 115.80,322.30 117.03,322.24 118.27,322.17 119.52,322.11 120.77,322.05 122.04,321.98 123.32,321.92 124.61,321.86 125.91,321.80 127.22,321.75 128.54,321.69 129.87,321.63 131.21,321.58 132.56,321.52 133.92,321.47 135.29,321.41 136.67,321.36 138.06,321.31 139.46,321.26 140.87,321.21 142.29,321.16 143.72,321.11 145.16,321.06 146.61,321.01 148.07,320.96 149.54,320.92 151.02,320.87 152.51,320.83 154.01,320.78 155.52,320.74 157.04,320.69 158.57,320.65 160.11,320.61 161.66,320.57 163.22,320.53 164.79,320.49 166.37,320.45 167.96,320.41 169.56,320.37 171.16,320.33 172.78,320.29 174.41,320.25 176.05,320.22 177.69,320.18 179.35,320.14 181.02,320.11 182.69,320.07 184.38,320.04 186.07,320.01 187.78,319.97 189.49,319.94 191.21,319.91 192.95,319.87 194.69,319.84 196.44,319.81 198.20,319.78 199.97,319.75 201.75,319.72 203.54,319.69 205.34,319.66 207.15,319.63 208.97,319.60 210.80,319.57 212.63,319.54 214.48,319.52 216.33,319.49 218.20,319.46" fill="none" stroke="#000" stroke-width="1.3" stroke-linejoin="round"/>
<path d="M51.63,323.37L54.03,323.37L52.83,325.77Z" fill="#fff" fill-opacity="0.55" stroke="#2a2a2a" stroke-width="0.7"/>
<path d="M52.88,315.23L55.28,315.23L54.08,317.63Z" fill="#fff" fill-opacity="0.55" stroke="#2a2a2a" stroke-width="0.7"/>
<path d="M54.12,309.30L56.52,309.30L55.32,311.70Z" fill="#fff" fill-opacity="0.55" stroke="#2a2a2a" stroke-width="0.7"/>
<path d="M56.62,301.15L59.02,301.15L57.82,303.55Z" fill="#fff" fill-opacity="0.55" stroke="#2a2a2a" stroke-width="0.7"/>
<path d="M59.11,295.53L61.51,295.53L60.31,297.93Z" fill="#fff" fill-opacity="0.55" stroke="#2a2a2a" stroke-width="0.7"/>
<path d="M61.60,291.08L64.00,291.08L62.80,293.48Z" fill="#fff" fill-opacity="0.55" stroke="#2a2a2a" stroke-width="0.7"/>
<path d="M66.72,284.16L70.52,284.16L68.62,287.96Z" fill="#fff" fill-opacity="0.55" stroke="#2a2a2a" stroke-width="0.75"/>
<path d="M75.03,270.83L78.83,270.83L76.93,274.63Z" fill="#fff" fill-opacity="0.55" stroke="#2a2a2a" stroke-width="0.75"/>
<path d="M83.34,267.87L87.14,267.87L85.24,271.67Z" fill="#fff" fill-opacity="0.55" stroke="#2a2a2a" stroke-width="0.75"/>
<path d="M99.96,260.46L103.76,260.46L101.86,264.26Z" fill="#fff" fill-opacity="0.55" stroke="#2a2a2a" stroke-width="0.75"/>
<path d="M116.58,237.50L120.38,237.50L118.48,241.30Z" fill="#fff" fill-opacity="0.55" stroke="#2a2a2a" stroke-width="0.75"/>
<path d="M133.20,234.54L137.00,234.54L135.10,238.34Z" fill="#fff" fill-opacity="0.55" stroke="#2a2a2a" stroke-width="0.75"/>
<path d="M158.13,237.50L161.93,237.50L160.03,241.30Z" fill="#fff" fill-opacity="0.55" stroke="#2a2a2a" stroke-width="0.75"/>
<path d="M183.06,241.94L186.86,241.94L184.96,245.74Z" fill="#fff" fill-opacity="0.55" stroke="#2a2a2a" stroke-width="0.75"/>
<path d="M213.81,233.05L217.61,233.05L215.71,236.85Z" fill="#fff" fill-opacity="0.55" stroke="#2a2a2a" stroke-width="0.75"/>
<rect x="53.49" y="328.61" width="2.00" height="2.00" fill="#fff" fill-opacity="0.55" stroke="#2a2a2a" stroke-width="0.8"/>
<rect x="55.99" y="327.72" width="2.00" height="2.00" fill="#fff" fill-opacity="0.55" stroke="#2a2a2a" stroke-width="0.8"/>
<rect x="59.31" y="326.83" width="2.00" height="2.00" fill="#fff" fill-opacity="0.55" stroke="#2a2a2a" stroke-width="0.8"/>
<rect x="63.47" y="326.24" width="2.00" height="2.00" fill="#fff" fill-opacity="0.55" stroke="#2a2a2a" stroke-width="0.8"/>
<rect x="67.62" y="325.50" width="2.00" height="2.00" fill="#fff" fill-opacity="0.55" stroke="#2a2a2a" stroke-width="0.8"/>
<rect x="75.43" y="324.11" width="3.00" height="3.00" fill="#fff" fill-opacity="0.55" stroke="#2a2a2a" stroke-width="0.75"/>
<rect x="83.74" y="323.07" width="3.00" height="3.00" fill="#fff" fill-opacity="0.55" stroke="#2a2a2a" stroke-width="0.75"/>
<rect x="92.05" y="321.00" width="3.00" height="3.00" fill="#fff" fill-opacity="0.55" stroke="#2a2a2a" stroke-width="0.75"/>
<rect x="100.36" y="321.15" width="3.00" height="3.00" fill="#fff" fill-opacity="0.55" stroke="#2a2a2a" stroke-width="0.75"/>
<rect x="116.98" y="319.37" width="3.00" height="3.00" fill="#fff" fill-opacity="0.55" stroke="#2a2a2a" stroke-width="0.75"/>
<rect x="133.60" y="319.37" width="3.00" height="3.00" fill="#fff" fill-opacity="0.55" stroke="#2a2a2a" stroke-width="0.75"/>
<rect x="166.84" y="319.22" width="3.00" height="3.00" fill="#fff" fill-opacity="0.55" stroke="#2a2a2a" stroke-width="0.75"/>
<rect x="200.08" y="318.33" width="3.00" height="3.00" fill="#fff" fill-opacity="0.55" stroke="#2a2a2a" stroke-width="0.75"/>
<path d="M52.00,218.80L52.00,330.50L218.80,330.50" fill="none" stroke="#000" stroke-width="1.2"/>
<path d="M52.00,330.50v3.2" stroke="#000" stroke-width="1.2"/>
<text transform="translate(52.00,343.90) rotate(0.04) scale(1.035,1)" font-size="9.6" text-anchor="middle" font-weight="bold" stroke="#000" stroke-width="0.25">0</text>
<path d="M93.55,330.50v3.2" stroke="#000" stroke-width="1.2"/>
<text transform="translate(93.55,343.90) rotate(0.04) scale(1.035,1)" font-size="9.6" text-anchor="middle" font-weight="bold" stroke="#000" stroke-width="0.25">5</text>
<path d="M135.10,330.50v3.2" stroke="#000" stroke-width="1.2"/>
<text transform="translate(135.10,343.90) rotate(0.04) scale(1.035,1)" font-size="9.6" text-anchor="middle" font-weight="bold" stroke="#000" stroke-width="0.25">10</text>
<path d="M176.65,330.50v3.2" stroke="#000" stroke-width="1.2"/>
<text transform="translate(176.65,343.90) rotate(0.04) scale(1.035,1)" font-size="9.6" text-anchor="middle" font-weight="bold" stroke="#000" stroke-width="0.25">15</text>
<path d="M218.20,330.50v3.2" stroke="#000" stroke-width="1.2"/>
<text transform="translate(218.20,343.90) rotate(0.04) scale(1.035,1)" font-size="9.6" text-anchor="middle" font-weight="bold" stroke="#000" stroke-width="0.25">20</text>
<path d="M52.00,330.50h-3.2" stroke="#000" stroke-width="1.2"/>
<text transform="translate(47.50,334.30) rotate(0.04) scale(1.035,1)" font-size="9.6" text-anchor="end" font-weight="bold" stroke="#000" stroke-width="0.25">0.00</text>
<path d="M52.00,293.47h-3.2" stroke="#000" stroke-width="1.2"/>
<text transform="translate(47.50,297.27) rotate(0.04) scale(1.035,1)" font-size="9.6" text-anchor="end" font-weight="bold" stroke="#000" stroke-width="0.25">0.25</text>
<path d="M52.00,256.43h-3.2" stroke="#000" stroke-width="1.2"/>
<text transform="translate(47.50,260.23) rotate(0.04) scale(1.035,1)" font-size="9.6" text-anchor="end" font-weight="bold" stroke="#000" stroke-width="0.25">0.50</text>
<path d="M52.00,219.40h-3.2" stroke="#000" stroke-width="1.2"/>
<text transform="translate(47.50,223.20) rotate(0.04) scale(1.035,1)" font-size="9.6" text-anchor="end" font-weight="bold" stroke="#000" stroke-width="0.25">0.75</text>
<text transform="translate(-0.10,201.30) rotate(0.04) scale(1.02,1)" font-size="16.7" text-anchor="start" font-weight="bold">C</text>
<text transform="translate(129.60,207.20) rotate(0.04)" font-size="12.3" text-anchor="middle">VWF115</text>
<text transform="translate(141.20,357.60) rotate(0.04)" font-size="12.3" text-anchor="middle">[Substrate] (µM)</text>
<text transform="translate(11.60,276.65) rotate(-89.96)" font-size="12.2" text-anchor="middle">Initial Rate</text>
<text transform="translate(24.00,274.80) rotate(-89.96)" font-size="12.3" text-anchor="middle">Proteolysis (nMs<tspan font-size="7" dy="-4.5">-1</tspan><tspan dy="4.5">)</tspan></text>
<text transform="translate(223.50,237.50) rotate(0.04) scale(0.93,1)" font-size="9.3" text-anchor="start">WT</text>
<text transform="translate(222.50,321.50) rotate(0.04) scale(0.93,1)" font-size="9.3" text-anchor="start">R349A</text>
<polyline points="314.00,331.50 314.02,331.48 314.06,331.42 314.13,331.32 314.22,331.21 314.32,331.06 314.45,330.90 314.59,330.71 314.75,330.49 314.93,330.26 315.13,330.01 315.34,329.74 315.56,329.45 315.81,329.15 316.06,328.83 316.34,328.50 316.62,328.15 316.93,327.79 317.24,327.42 317.58,327.04 317.92,326.65 318.28,326.25 318.66,325.84 319.04,325.42 319.45,325.00 319.86,324.56 320.29,324.13 320.73,323.69 321.19,323.24 321.66,322.79 322.14,322.34 322.63,321.88 323.14,321.42 323.66,320.96 324.19,320.50 324.74,320.04 325.30,319.58 325.87,319.12 326.45,318.65 327.05,318.19 327.66,317.73 328.28,317.28 328.91,316.82 329.56,316.37 330.21,315.92 330.88,315.47 331.56,315.02 332.26,314.58 332.96,314.14 333.68,313.70 334.41,313.27 335.15,312.84 335.90,312.42 336.66,312.00 337.44,311.58 338.23,311.17 339.03,310.76 339.84,310.36 340.66,309.96 341.49,309.56 342.33,309.17 343.19,308.79 344.06,308.41 344.94,308.03 345.82,307.66 346.73,307.29 347.64,306.93 348.56,306.57 349.49,306.22 350.44,305.87 351.40,305.53 352.36,305.19 353.34,304.86 354.33,304.53 355.33,304.21 356.34,303.89 357.36,303.57 358.39,303.26 359.44,302.96 360.49,302.65 361.56,302.36 362.63,302.06 363.72,301.78 364.81,301.49 365.92,301.21 367.04,300.93 368.17,300.66 369.31,300.39 370.46,300.13 371.62,299.87 372.79,299.62 373.97,299.36 375.16,299.11 376.36,298.87 377.57,298.63 378.80,298.39 380.03,298.16 381.27,297.93 382.53,297.70 383.79,297.48 385.06,297.26 386.35,297.04 387.64,296.83 388.95,296.62 390.26,296.41 391.59,296.21 392.92,296.01 394.27,295.81 395.62,295.62 396.99,295.42 398.36,295.24 399.75,295.05 401.14,294.87 402.55,294.69 403.96,294.51 405.39,294.33 406.83,294.16 408.27,293.99 409.73,293.82 411.19,293.66 412.67,293.50 414.15,293.34 415.65,293.18 417.15,293.02 418.67,292.87 420.19,292.72 421.72,292.57 423.27,292.42 424.82,292.28 426.38,292.14 427.96,292.00 429.54,291.86 431.13,291.72 432.73,291.59 434.35,291.46 435.97,291.33 437.60,291.20 439.24,291.07 440.89,290.95 442.55,290.82 444.22,290.70 445.90,290.58 447.59,290.46 449.28,290.35 450.99,290.23 452.71,290.12 454.44,290.01 456.17,289.90 457.92,289.79 459.67,289.68 461.44,289.57 463.21,289.47 465.00,289.37 466.79,289.27 468.59,289.17 470.40,289.07 472.22,288.97 474.05,288.87 475.89,288.78 477.74,288.68 479.60,288.59" fill="none" stroke="#000" stroke-width="1.3" stroke-linejoin="round"/>
<polyline points="314.00,331.50 314.02,331.48 314.06,331.43 314.13,331.36 314.22,331.26 314.32,331.14 314.45,331.01 314.59,330.85 314.75,330.68 314.93,330.49 315.13,330.28 315.34,330.06 315.56,329.82 315.81,329.57 316.06,329.30 316.34,329.03 316.62,328.74 316.93,328.44 317.24,328.13 317.58,327.80 317.92,327.47 318.28,327.13 318.66,326.78 319.04,326.43 319.45,326.06 319.86,325.69 320.29,325.31 320.73,324.93 321.19,324.54 321.66,324.15 322.14,323.75 322.63,323.35 323.14,322.95 323.66,322.54 324.19,322.13 324.74,321.71 325.30,321.30 325.87,320.88 326.45,320.47 327.05,320.05 327.66,319.63 328.28,319.21 328.91,318.79 329.56,318.37 330.21,317.95 330.88,317.54 331.56,317.12 332.26,316.71 332.96,316.29 333.68,315.88 334.41,315.47 335.15,315.06 335.90,314.66 336.66,314.25 337.44,313.85 338.23,313.45 339.03,313.06 339.84,312.67 340.66,312.28 341.49,311.89 342.33,311.51 343.19,311.12 344.06,310.75 344.94,310.37 345.82,310.00 346.73,309.64 347.64,309.27 348.56,308.91 349.49,308.56 350.44,308.21 351.40,307.86 352.36,307.51 353.34,307.17 354.33,306.83 355.33,306.50 356.34,306.17 357.36,305.84 358.39,305.52 359.44,305.20 360.49,304.89 361.56,304.57 362.63,304.27 363.72,303.96 364.81,303.66 365.92,303.37 367.04,303.07 368.17,302.78 369.31,302.50 370.46,302.22 371.62,301.94 372.79,301.66 373.97,301.39 375.16,301.12 376.36,300.86 377.57,300.60 378.80,300.34 380.03,300.08 381.27,299.83 382.53,299.59 383.79,299.34 385.06,299.10 386.35,298.86 387.64,298.63 388.95,298.39 390.26,298.16 391.59,297.94 392.92,297.71 394.27,297.49 395.62,297.28 396.99,297.06 398.36,296.85 399.75,296.64 401.14,296.44 402.55,296.23 403.96,296.03 405.39,295.83 406.83,295.64 408.27,295.45 409.73,295.26 411.19,295.07 412.67,294.88 414.15,294.70 415.65,294.52 417.15,294.34 418.67,294.17 420.19,293.99 421.72,293.82 423.27,293.65 424.82,293.49 426.38,293.32 427.96,293.16 429.54,293.00 431.13,292.84 432.73,292.69 434.35,292.53 435.97,292.38 437.60,292.23 439.24,292.08 440.89,291.94 442.55,291.79 444.22,291.65 445.90,291.51 447.59,291.37 449.28,291.23 450.99,291.10 452.71,290.97 454.44,290.83 456.17,290.70 457.92,290.57 459.67,290.45 461.44,290.32 463.21,290.20 465.00,290.08 466.79,289.96 468.59,289.84 470.40,289.72 472.22,289.60 474.05,289.49 475.89,289.37 477.74,289.26 479.60,289.15" fill="none" stroke="#000" stroke-width="1.3" stroke-linejoin="round"/>
<polyline points="314.00,331.50 314.00,331.50 314.00,331.50 314.01,331.49 314.01,331.48 314.02,331.47 314.03,331.46 314.04,331.45 314.05,331.44 314.06,331.43 314.07,331.41 314.09,331.39 314.10,331.38 314.12,331.36 314.13,331.34 314.15,331.32 314.17,331.29 314.19,331.27 314.21,331.24 314.23,331.22 314.25,331.19 314.28,331.16 314.30,331.13 314.33,331.10 314.35,331.07 314.38,331.04 314.41,331.01 314.44,330.97 314.47,330.94 314.50,330.90 314.53,330.86 314.56,330.82 314.59,330.79 314.63,330.74 314.66,330.70 314.70,330.66 314.73,330.62 314.77,330.58 314.81,330.53 314.85,330.49 314.89,330.44 314.93,330.39 314.97,330.34 315.01,330.29 315.05,330.24 315.10,330.19 315.14,330.14 315.19,330.09 315.23,330.04 315.28,329.98 315.33,329.93 315.37,329.87 315.42,329.82 315.47,329.76 315.52,329.70 315.57,329.65 315.63,329.59 315.68,329.53 315.73,329.47 315.79,329.41 315.84,329.34 315.90,329.28 315.95,329.22 316.01,329.15 316.07,329.09 316.13,329.02 316.19,328.96 316.25,328.89 316.31,328.83 316.37,328.76 316.43,328.69 316.49,328.62 316.56,328.55 316.62,328.48 316.69,328.41 316.75,328.34 316.82,328.27 316.89,328.20 316.95,328.12 317.02,328.05 317.09,327.98 317.16,327.90 317.23,327.83 317.30,327.75 317.37,327.68 317.45,327.60 317.52,327.52 317.59,327.44 317.67,327.37 317.75,327.29 317.82,327.21 317.90,327.13 317.98,327.05 318.05,326.97 318.13,326.89 318.21,326.81 318.29,326.73 318.37,326.65 318.45,326.56 318.54,326.48 318.62,326.40 318.70,326.32 318.79,326.23 318.87,326.15 318.96,326.06 319.04,325.98 319.13,325.89 319.22,325.81 319.31,325.72 319.39,325.64 319.48,325.55 319.57,325.46 319.66,325.38 319.76,325.29 319.85,325.20 319.94,325.11 320.03,325.02 320.13,324.94 320.22,324.85 320.32,324.76 320.41,324.67 320.51,324.58 320.61,324.49 320.70,324.40 320.80,324.31 320.90,324.22 321.00,324.13 321.10,324.04 321.20,323.94 321.30,323.85 321.41,323.76 321.51,323.67 321.61,323.58 321.72,323.48 321.82,323.39 321.93,323.30 322.03,323.21 322.14,323.11 322.25,323.02 322.36,322.93 322.46,322.83 322.57,322.74 322.68,322.65 322.79,322.55 322.90,322.46 323.02,322.36 323.13,322.27 323.24,322.18 323.35,322.08 323.47,321.99 323.58,321.89 323.70,321.80 323.81,321.70 323.93,321.61 324.05,321.51 324.17,321.42 324.28,321.32 324.40,321.23 324.52,321.13 324.64,321.03 324.76,320.94" fill="none" stroke="#000" stroke-width="3.0" stroke-linejoin="round"/>
<rect x="314.66" y="328.73" width="2.00" height="2.00" fill="#fff" fill-opacity="0.55" stroke="#2a2a2a" stroke-width="0.8"/>
<rect x="316.73" y="326.08" width="2.00" height="2.00" fill="#fff" fill-opacity="0.55" stroke="#2a2a2a" stroke-width="0.8"/>
<rect x="318.80" y="323.88" width="2.00" height="2.00" fill="#fff" fill-opacity="0.55" stroke="#2a2a2a" stroke-width="0.8"/>
<rect x="321.28" y="321.67" width="2.00" height="2.00" fill="#fff" fill-opacity="0.55" stroke="#2a2a2a" stroke-width="0.8"/>
<rect x="361.88" y="300.26" width="3.60" height="3.60" fill="#fff" fill-opacity="0.55" stroke="#2a2a2a" stroke-width="0.75"/>
<rect x="370.16" y="292.16" width="3.60" height="3.60" fill="#fff" fill-opacity="0.55" stroke="#2a2a2a" stroke-width="0.75"/>
<rect x="370.16" y="296.58" width="3.60" height="3.60" fill="#fff" fill-opacity="0.55" stroke="#2a2a2a" stroke-width="0.75"/>
<rect x="378.44" y="292.90" width="3.60" height="3.60" fill="#fff" fill-opacity="0.55" stroke="#2a2a2a" stroke-width="0.75"/>
<rect x="395.00" y="285.54" width="3.60" height="3.60" fill="#fff" fill-opacity="0.55" stroke="#2a2a2a" stroke-width="0.75"/>
<rect x="395.00" y="289.22" width="3.60" height="3.60" fill="#fff" fill-opacity="0.55" stroke="#2a2a2a" stroke-width="0.75"/>
<rect x="444.68" y="287.01" width="3.60" height="3.60" fill="#fff" fill-opacity="0.55" stroke="#2a2a2a" stroke-width="0.75"/>
<path d="M315.48,327.56L317.48,327.56L316.48,329.56Z" fill="#fff" fill-opacity="0.55" stroke="#2a2a2a" stroke-width="0.8"/>
<path d="M317.97,324.61L319.97,324.61L318.97,326.61Z" fill="#fff" fill-opacity="0.55" stroke="#2a2a2a" stroke-width="0.8"/>
<path d="M320.45,322.40L322.45,322.40L321.45,324.40Z" fill="#fff" fill-opacity="0.55" stroke="#2a2a2a" stroke-width="0.8"/>
<path d="M322.94,320.20L324.94,320.20L323.94,322.20Z" fill="#fff" fill-opacity="0.55" stroke="#2a2a2a" stroke-width="0.8"/>
<path d="M328.76,317.19L332.36,317.19L330.56,320.79Z" fill="#fff" fill-opacity="0.55" stroke="#2a2a2a" stroke-width="0.75"/>
<path d="M337.04,314.24L340.64,314.24L338.84,317.84Z" fill="#fff" fill-opacity="0.55" stroke="#2a2a2a" stroke-width="0.75"/>
<path d="M345.32,310.56L348.92,310.56L347.12,314.16Z" fill="#fff" fill-opacity="0.55" stroke="#2a2a2a" stroke-width="0.75"/>
<path d="M353.60,309.09L357.20,309.09L355.40,312.69Z" fill="#fff" fill-opacity="0.55" stroke="#2a2a2a" stroke-width="0.75"/>
<path d="M395.00,291.43L398.60,291.43L396.80,295.03Z" fill="#fff" fill-opacity="0.55" stroke="#2a2a2a" stroke-width="0.75"/>
<path d="M444.68,289.66L448.28,289.66L446.48,293.26Z" fill="#fff" fill-opacity="0.55" stroke="#2a2a2a" stroke-width="0.75"/>
<path d="M477.80,290.69L481.40,290.69L479.60,294.29Z" fill="#fff" fill-opacity="0.55" stroke="#2a2a2a" stroke-width="0.75"/>
<path d="M314.00,220.50L314.00,331.50L480.20,331.50" fill="none" stroke="#000" stroke-width="1.2"/>
<path d="M314.00,331.50v3.2" stroke="#000" stroke-width="1.2"/>
<text transform="translate(314.00,344.70) rotate(0.04) scale(1.035,1)" font-size="9.6" text-anchor="middle" font-weight="bold" stroke="#000" stroke-width="0.25">0</text>
<path d="M355.40,331.50v3.2" stroke="#000" stroke-width="1.2"/>
<text transform="translate(355.40,344.70) rotate(0.04) scale(1.035,1)" font-size="9.6" text-anchor="middle" font-weight="bold" stroke="#000" stroke-width="0.25">5</text>
<path d="M396.80,331.50v3.2" stroke="#000" stroke-width="1.2"/>
<text transform="translate(396.80,344.70) rotate(0.04) scale(1.035,1)" font-size="9.6" text-anchor="middle" font-weight="bold" stroke="#000" stroke-width="0.25">10</text>
<path d="M438.20,331.50v3.2" stroke="#000" stroke-width="1.2"/>
<text transform="translate(438.20,344.70) rotate(0.04) scale(1.035,1)" font-size="9.6" text-anchor="middle" font-weight="bold" stroke="#000" stroke-width="0.25">15</text>
<path d="M479.60,331.50v3.2" stroke="#000" stroke-width="1.2"/>
<text transform="translate(479.60,344.70) rotate(0.04) scale(1.035,1)" font-size="9.6" text-anchor="middle" font-weight="bold" stroke="#000" stroke-width="0.25">20</text>
<path d="M314.00,331.50h-3.2" stroke="#000" stroke-width="1.2"/>
<text transform="translate(309.60,334.90) rotate(0.04) scale(1.035,1)" font-size="9.6" text-anchor="end" font-weight="bold" stroke="#000" stroke-width="0.25">0.00</text>
<path d="M314.00,294.70h-3.2" stroke="#000" stroke-width="1.2"/>
<text transform="translate(309.60,298.10) rotate(0.04) scale(1.035,1)" font-size="9.6" text-anchor="end" font-weight="bold" stroke="#000" stroke-width="0.25">0.25</text>
<path d="M314.00,257.90h-3.2" stroke="#000" stroke-width="1.2"/>
<text transform="translate(309.60,261.30) rotate(0.04) scale(1.035,1)" font-size="9.6" text-anchor="end" font-weight="bold" stroke="#000" stroke-width="0.25">0.50</text>
<path d="M314.00,221.10h-3.2" stroke="#000" stroke-width="1.2"/>
<text transform="translate(309.60,224.50) rotate(0.04) scale(1.035,1)" font-size="9.6" text-anchor="end" font-weight="bold" stroke="#000" stroke-width="0.25">0.75</text>
<text transform="translate(265.70,201.50) rotate(0.04) scale(1.06,1)" font-size="16.7" text-anchor="start" font-weight="bold">D</text>
<text transform="translate(405.00,209.50) rotate(0.04)" font-size="12.35" text-anchor="middle">VWF115(D1614A)</text>
<text transform="translate(398.60,357.90) rotate(0.04)" font-size="12.2" text-anchor="middle">[Substrate] (µM)</text>
<text transform="translate(271.90,276.65) rotate(-89.96)" font-size="12.2" text-anchor="middle">Initial Rate</text>
<text transform="translate(284.20,274.80) rotate(-89.96)" font-size="12.3" text-anchor="middle">Proteolysis (nMs<tspan font-size="7" dy="-4.5">-1</tspan><tspan dy="4.5">)</tspan></text>
<text transform="translate(492.40,284.20) rotate(0.04) scale(0.93,1)" font-size="9.3" text-anchor="start">WT</text>
<text transform="translate(492.60,295.40) rotate(0.04) scale(0.93,1)" font-size="9.3" text-anchor="start">R349A</text>
<path d="M490.00,278.50q-2.80,0 -2.80,2.80V283.70q0,3.40 -3.40,3.40q3.40,0 3.40,3.40V292.90q0,2.80 2.80,2.80" fill="none" stroke="#000" stroke-width="1.6"/>
</g>
</svg>
</body></html>
